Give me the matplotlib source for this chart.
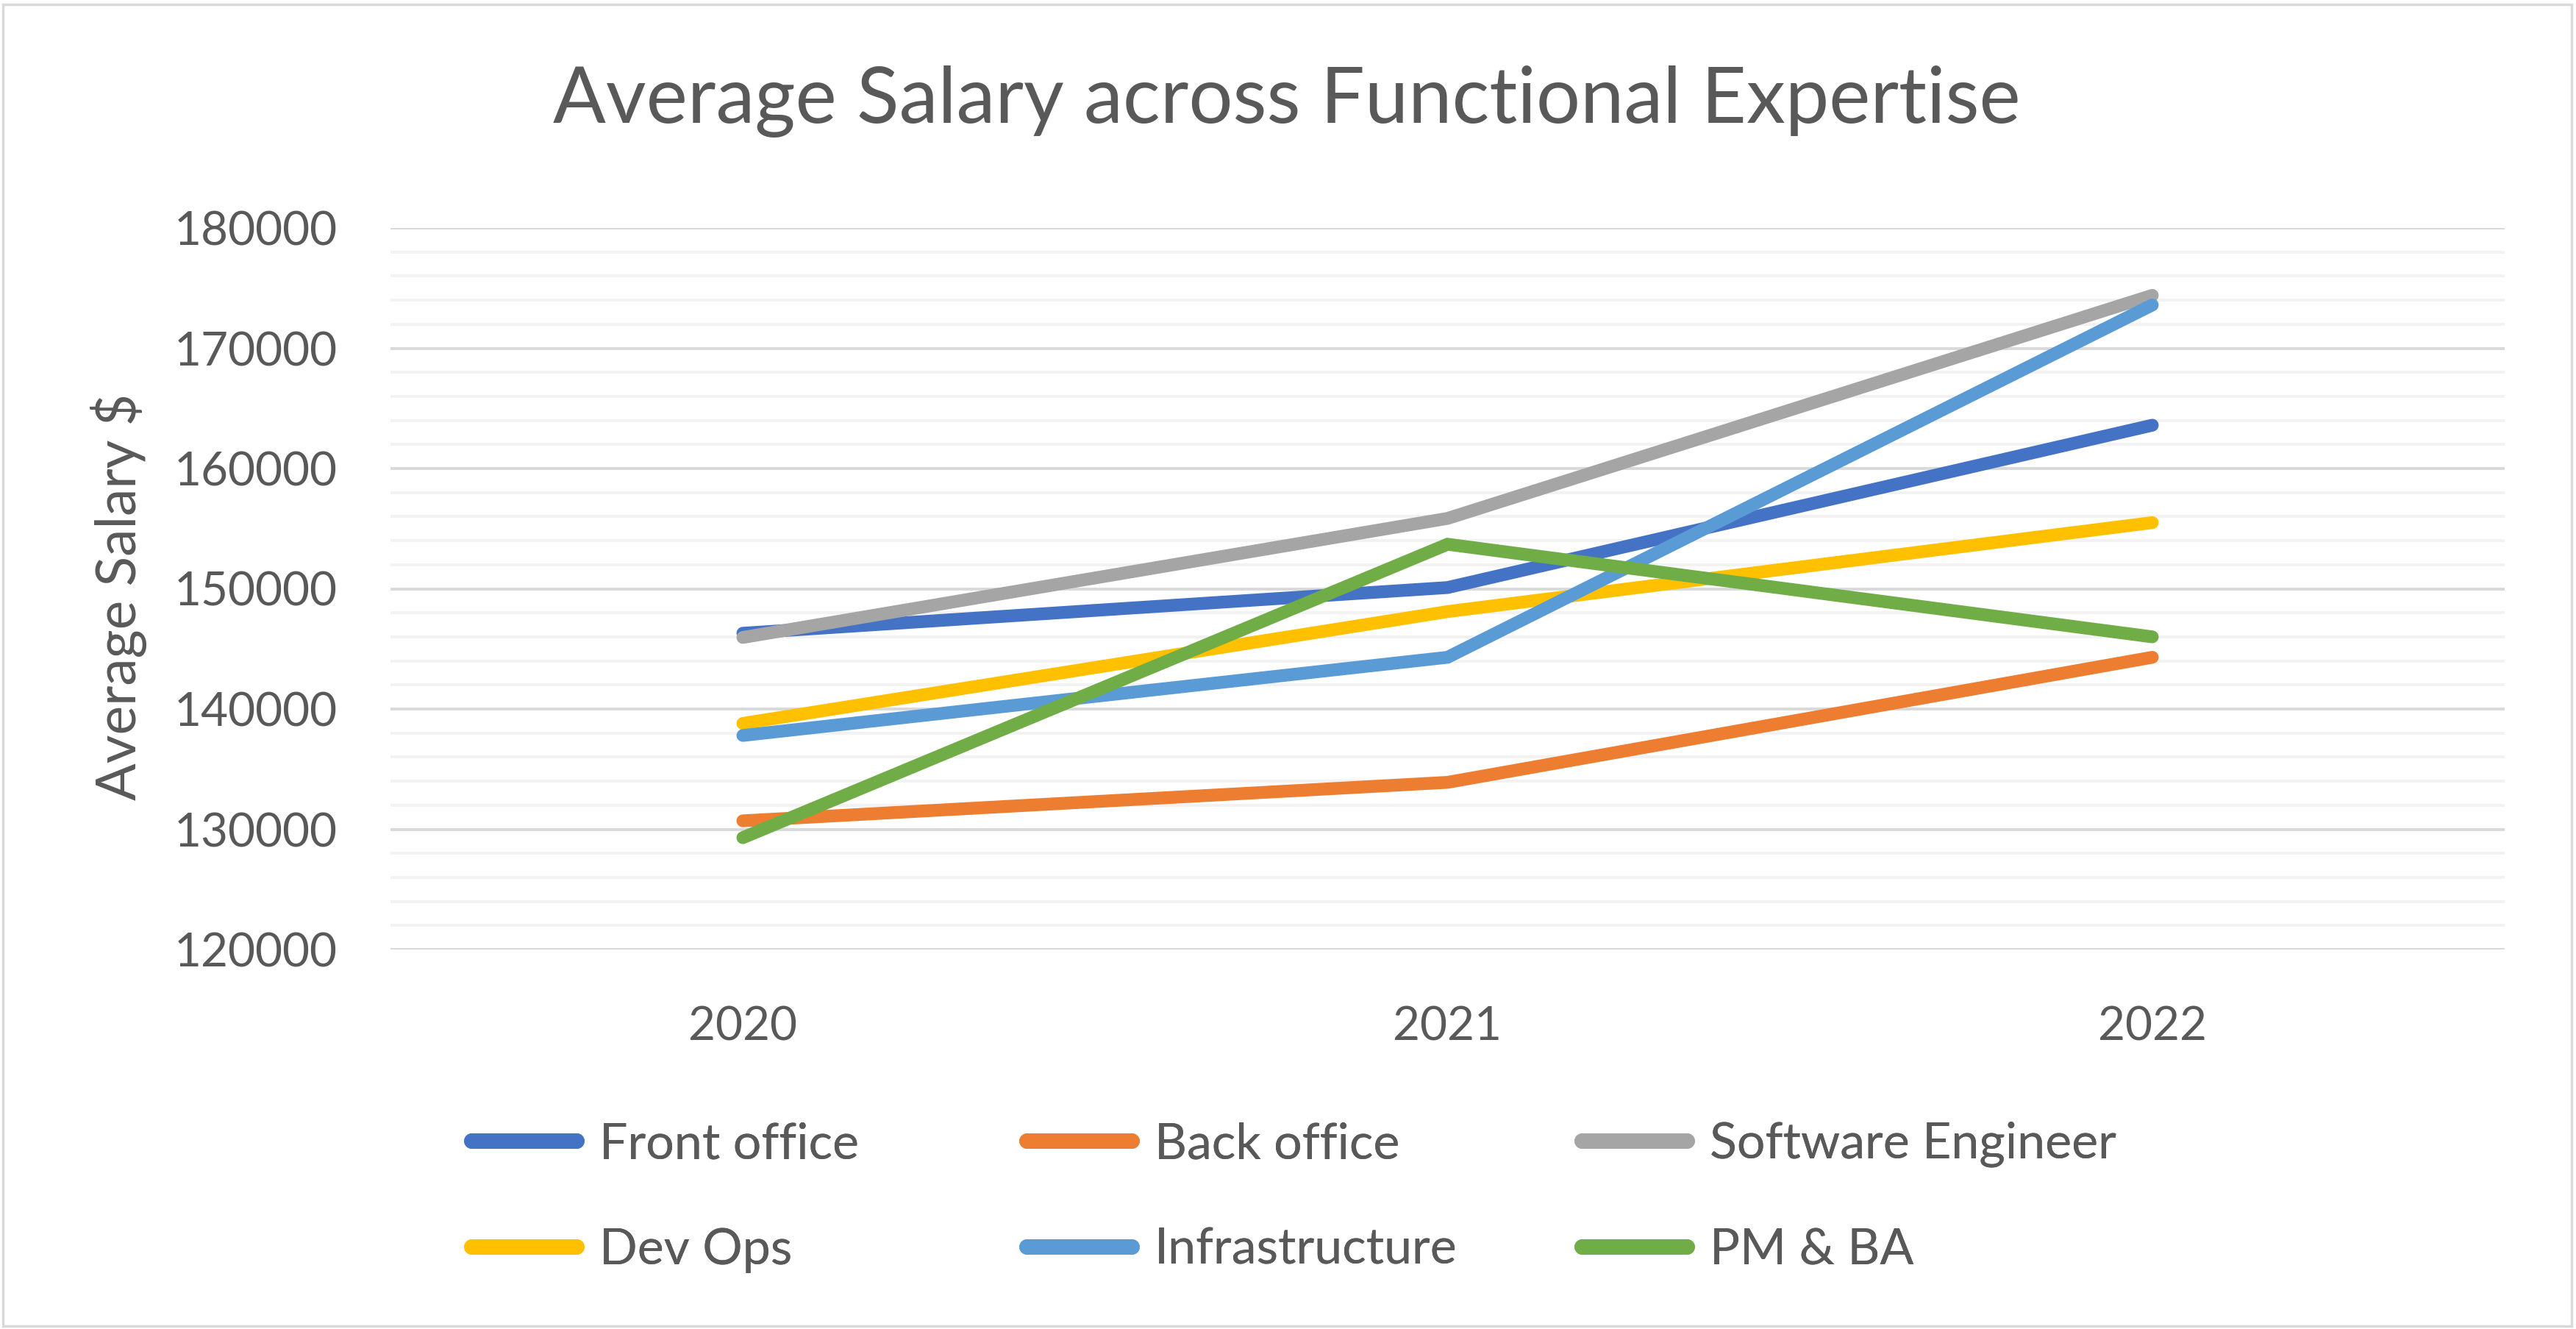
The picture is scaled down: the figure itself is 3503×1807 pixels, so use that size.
import matplotlib
matplotlib.use("Agg")
import matplotlib.pyplot as plt
from matplotlib.lines import Line2D
from matplotlib.patches import Rectangle
from matplotlib.ticker import MultipleLocator, StrMethodFormatter

plt.rcParams["font.family"] = ["Lato", "DejaVu Sans"]

# data
years = ["2020", "2021", "2022"]
front_office = [146300, 150100, 163600]
back_office = [130700, 133900, 144300]
software_engineer = [145950, 155850, 174400]
dev_ops = [138800, 148100, 155500]
infrastructure = [137800, 144300, 173600]
pm_ba = [129300, 153700, 146000]

series_names = ["Front office", "Back office", "Software Engineer",
                "Dev Ops", "Infrastructure", "PM & BA"]
series_values = [front_office, back_office, software_engineer,
                 dev_ops, infrastructure, pm_ba]
colors = ["#4472C4", "#ED7D31", "#A5A5A5", "#FFC000", "#5B9BD5", "#70AD47"]

TEXT = "#595959"
W, H = 3503, 1807

fig = plt.figure(figsize=(W / 100, H / 100), dpi=100)
ax = fig.add_axes([531 / W, 1 - 1291 / H, (3406 - 531) / W, (1291 - 310) / H])

x = list(range(len(years)))
for name, vals, col in zip(series_names, series_values, colors):
    ax.plot(x, vals, color=col, lw=12.5, solid_capstyle="round",
            solid_joinstyle="miter", label=name, zorder=3)

ax.set_xlim(-0.5, len(years) - 0.5)
ax.set_ylim(120000, 180000)
ax.set_xticks(x)
ax.set_xticklabels(years)
ax.yaxis.set_major_locator(MultipleLocator(10000))
ax.yaxis.set_minor_locator(MultipleLocator(2000))
ax.yaxis.set_major_formatter(StrMethodFormatter("{x:.0f}"))

ax.grid(axis="y", which="minor", color="#F2F2F2", lw=2.8, zorder=0)
ax.grid(axis="y", which="major", color="#D9D9D9", lw=2.8, zorder=1)
ax.set_axisbelow(True)
for s in ax.spines.values():
    s.set_visible(False)
ax.tick_params(axis="both", which="both", length=0, labelsize=46, labelcolor=TEXT)
ax.tick_params(axis="y", pad=52)
ax.tick_params(axis="x", pad=55)

fig.text(1750 / W, 1 - 138 / H, "Average Salary across Functional Expertise",
         ha="center", va="center", fontsize=76.5, color=TEXT)
fig.text(161 / W, 1 - 811 / H, "Average Salary $", rotation=90,
         ha="center", va="center", fontsize=54, color=TEXT)

# legend: three columns, two rows, placed like the Excel legend
col_x = [641, 1396, 2151]
row_y = 1 - 1628 / H
handles = [Line2D([], [], color=c, lw=15, solid_capstyle="round") for c in colors]
for i, cx in enumerate(col_x):
    idx = [i, i + 3]
    leg = fig.legend([handles[k] for k in idx], [series_names[k] for k in idx],
                     loc="center left", bbox_to_anchor=(cx / W, row_y),
                     frameon=False, fontsize=49, labelcolor=TEXT,
                     handlelength=2.1, handletextpad=0.45, labelspacing=1.2,
                     borderpad=0, borderaxespad=0)
    fig.add_artist(leg)

fig.add_artist(Rectangle((4 / W, 4 / H), 1 - 10 / W, 1 - 10 / H,
                         transform=fig.transFigure, fill=False,
                         edgecolor="#D9D9D9", lw=2.5))

fig.savefig("out.png", dpi=100, facecolor="white")
